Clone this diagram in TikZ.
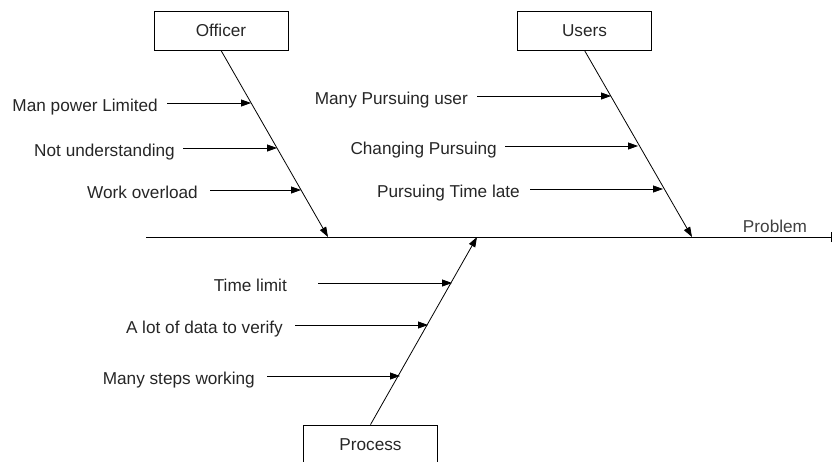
\documentclass[tikz,border=0pt]{standalone}
\usepackage{fontspec}
\setmainfont{Liberation Sans}
\usetikzlibrary{arrows.meta}
\newcommand{\lowered}[1]{\raisebox{-2pt}{#1}}
\begin{document}
\begin{tikzpicture}[x=1pt,y=-1pt,
  box/.style={draw, line width=0.8pt, minimum width=134pt, minimum height=39pt, inner sep=0pt, font=\fontsize{17.2}{20}\selectfont, text=black!85},
  lbl/.style={inner sep=0pt, anchor=base east, font=\fontsize{17.2}{20}\selectfont, text=black!85},
  bone/.style={line width=0.8pt, -{Triangle[length=10pt,width=7pt]}},
  cause/.style={line width=0.8pt, -{Triangle[length=10pt,width=7pt]}}]
\useasboundingbox (0,0) rectangle (832,461);
% boxes
\node[box] (officer) at (221,30.5) {\lowered{Officer}};
\node[box] (users) at (584.5,30.5) {\lowered{Users}};
\node[box] (process) at (370.5,444.5) {\lowered{Process}};
% spine
\coordinate (ms) at (146,237);
\coordinate (me) at (831,237);
\draw[line width=0.8pt] (ms) -- (me);
\draw[line width=0.8pt] ([yshift=-5pt]me) -- ([yshift=5pt]me);
\node[inner sep=0pt, anchor=base, font=\fontsize{17.2}{20}\selectfont, text=black!75] (problem) at (775,232) {Problem};
% main bones
\coordinate (oend) at (328,237);
\coordinate (uend) at (692,237);
\coordinate (pend) at (477,237);
\draw[bone] (officer.south) -- (oend);
\draw[bone] (users.south) -- (uend);
\draw[bone] (process.north) -- (pend);
% officer causes
\coordinate (o1) at (251,103);
\coordinate (o2) at (277,148);
\coordinate (o3) at (301,190);
\node[lbl] (c1) at (158,111) {Man power Limited};
\node[lbl] (c2) at (175,156) {Not understanding};
\node[lbl] (c3) at (198,198) {Work overload};
\draw[cause] (c1.east |- o1) ++(9pt,0) -- (o1);
\draw[cause] (c2.east |- o2) ++(8pt,0) -- (o2);
\draw[cause] (c3.east |- o3) ++(12pt,0) -- (o3);
% users causes
\coordinate (u1) at (611,96);
\coordinate (u2) at (638,146);
\coordinate (u3) at (663,189);
\node[lbl] (d1) at (468,104) {Many Pursuing user};
\node[lbl] (d2) at (497,154) {Changing Pursuing};
\node[lbl] (d3) at (520,197) {Pursuing Time late};
\draw[cause] (d1.east |- u1) ++(9pt,0) -- (u1);
\draw[cause] (d2.east |- u2) ++(8pt,0) -- (u2);
\draw[cause] (d3.east |- u3) ++(10pt,0) -- (u3);
% process causes
\coordinate (p1) at (452,283);
\coordinate (p2) at (428,325);
\coordinate (p3) at (400,376);
\node[lbl] (e1) at (287,291) {Time limit};
\node[lbl] (e2) at (283,333) {A lot of data to verify};
\node[lbl] (e3) at (255,384) {Many steps working};
\draw[cause] (e1.east |- p1) ++(31pt,0) -- (p1);
\draw[cause] (e2.east |- p2) ++(12pt,0) -- (p2);
\draw[cause] (e3.east |- p3) ++(12pt,0) -- (p3);
\end{tikzpicture}
\end{document}
